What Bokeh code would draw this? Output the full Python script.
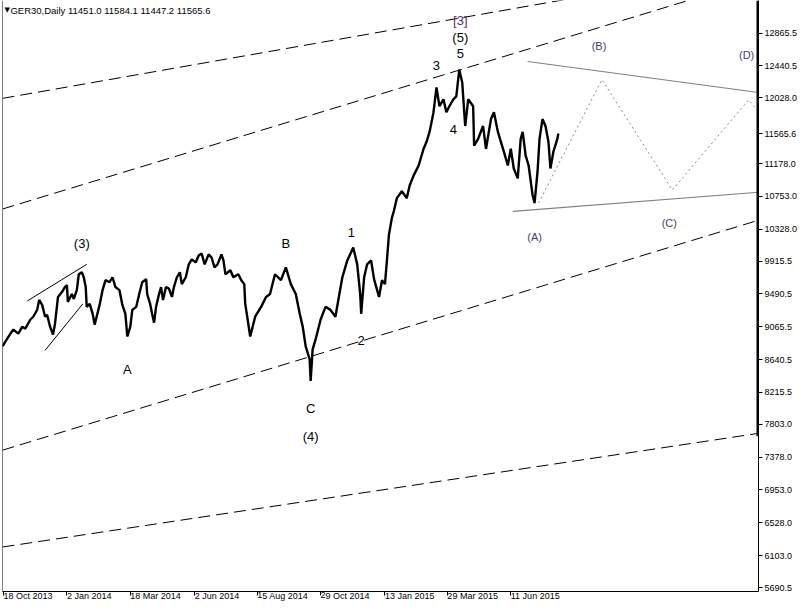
from bokeh.plotting import figure
from bokeh.models import Range1d, FixedTicker, NumeralTickFormatter, Label, Span
from bokeh.core.properties import value
from bokeh.embed import file_html
from bokeh.resources import INLINE

FONT = "Liberation Sans"

# ---- price path (bar index, close) ----
daily_points = [
    (0, 8811), (3, 8875), (8, 8977), (11, 9029), (16, 8977), (20, 9067), (23, 9041), (28, 9156),
    (31, 9195), (35, 9284), (37, 9412), (40, 9348), (43, 9195), (45, 9220), (48, 9067), (51, 8965),
    (53, 9105), (56, 9451), (60, 9515), (63, 9579), (65, 9604), (66, 9387), (70, 9489), (72, 9425),
    (75, 9540), (77, 9745), (80, 9770), (82, 9706), (84, 9579), (85, 9323), (88, 9361), (91, 9233),
    (93, 9093), (95, 9195), (98, 9348), (101, 9540), (104, 9668), (108, 9642), (111, 9706),
    (114, 9579), (118, 9540), (121, 9348), (124, 9233), (126, 8939), (129, 9067), (131, 9284),
    (135, 9323), (138, 9489), (141, 9642), (145, 9681), (146, 9489), (149, 9361), (151, 9233),
    (153, 9118), (155, 9323), (158, 9489), (160, 9579), (162, 9412), (165, 9579), (168, 9560),
    (171, 9451), (173, 9579), (176, 9706), (179, 9770), (181, 9617), (185, 9706), (188, 9873),
    (191, 9937), (195, 9898), (198, 9988), (201, 10013), (204, 9873), (208, 10001), (211, 9962),
    (214, 9834), (217, 9873), (221, 10001), (223, 9924), (225, 9745), (230, 9796), (233, 9706),
    (238, 9745), (241, 9668), (244, 9617), (245, 9361), (247, 9195), (250, 8939), (255, 9195),
    (261, 9323), (266, 9451), (270, 9489), (275, 9745), (281, 9668), (286, 9834), (291, 9617),
    (296, 9489), (300, 9233), (303, 9067), (306, 8811), (310, 8645), (311, 8363), (313, 8773),
    (316, 8901), (321, 9156), (326, 9323), (331, 9284), (336, 9195), (340, 9489), (343, 9706),
    (348, 9924), (354, 10090), (358, 9873), (361, 9489), (362, 9233), (365, 9706), (368, 9873),
    (372, 9924), (375, 9681), (380, 9451), (383, 9668), (386, 9617), (388, 9924), (390, 10256),
    (393, 10474), (395, 10563), (398, 10730), (403, 10819), (408, 10730), (411, 10896),
    (415, 11024), (420, 11152), (425, 11369), (428, 11459), (431, 11587), (435, 11842),
    (438, 12162), (441, 11919), (445, 12009), (448, 11842), (451, 11919), (455, 12009),
    (458, 12047), (461, 12392), (464, 12226), (466, 11842), (467, 11663), (470, 12009),
    (475, 11919), (476, 11408), (480, 11497), (485, 11663), (488, 11369), (493, 11753),
    (496, 11842), (500, 11587), (503, 11459), (506, 11331), (510, 11152), (513, 11369),
    (516, 11113), (520, 10985), (523, 11497), (525, 11587), (528, 11280), (531, 11152),
    (535, 10768), (537, 10666), (540, 11075), (542, 11497), (545, 11753), (548, 11663),
    (551, 11459), (553, 11113), (556, 11331), (560, 11497), (561, 11565.6),
]
bar_index = [b for b, _ in daily_points]
close_price = [c for _, c in daily_points]

# ---- axes ----
date_bars = [1, 65, 129, 194, 257, 321, 386, 449, 513]
date_labels = ["18 Oct 2013", "2 Jan 2014", "18 Mar 2014", "2 Jun 2014", "15 Aug 2014",
               "29 Oct 2014", "13 Jan 2015", "29 Mar 2015", "11 Jun 2015"]
last_price = 11565.6
price_ticks = [12865.5, 12440.5, 12028.0, last_price, 11178.0, 10753.0, 10328.0, 9915.5, 9490.5,
               9065.5, 8640.5, 8215.5, 7803.0, 7378.0, 6953.0, 6528.0, 6103.0, 5690.5]
title_text = "GER30,Daily  11451.0 11584.1 11447.2 11565.6"

# ---- channel lines (dashed): [x0, x1], [y0, y1] ----
channel_x = [[0, 763], [0, 763], [0, 763], [0, 763]]
channel_y = [[12021, 13739], [10589, 13565], [7468, 10444], [6215, 7686]]

# ---- small wedge lines near (3) ----
wedge_x = [[25, 85], [43, 81]]
wedge_y = [[9399, 9873], [8760, 9361]]

# ---- triangle boundary lines (grey) ----
tri_x = [[530, 763], [515, 763]]
tri_y = [[12498, 12097], [10559, 10806]]

# ---- projected zigzag (dotted) ----
zig_x = [541, 605, 676, 753, 761]
zig_y = [10666, 12264, 10836, 12000, 11881]

# ---- wave labels ----
wave_text = ["(3)", "A", "B", "C", "(4)", "1", "2", "3", "4", "5", "(5)"]
wave_x = [80, 126, 286, 311, 311, 352, 362, 438, 455, 462, 462]
wave_y = [10141, 8517, 10141, 8005, 7647, 10282, 8888, 12443, 11612, 12597, 12814]

major_text = ["[3]"]
major_x = [462]
major_y = [13032]

minor_text = ["(A)", "(B)", "(C)", "(D)"]
minor_x = [537, 602, 673, 751]
minor_y = [10231, 12699, 10410, 12584]

right_bar_y = [7647, 13287.6]

Y_TOP, Y_BOTTOM = 13287.6, 5639.2
W, H = 800, 608

p = figure(width=W, height=H,
           x_range=Range1d(0, 763), y_range=Range1d(Y_BOTTOM, Y_TOP),
           output_backend="svg", toolbar_location=None, y_axis_location="right",
           min_border_left=2, min_border_top=0, min_border_right=39,
           min_border_bottom=15)
p.background_fill_color = "white"
p.border_fill_color = "white"
p.outline_line_color = None
p.xgrid.visible = False
p.ygrid.visible = False

# right price axis
ya = p.yaxis[0]
ya.ticker = FixedTicker(ticks=price_ticks)
ya.formatter = NumeralTickFormatter(format="0.0")
ya.major_label_text_font = FONT
ya.major_label_text_font_size = "9px"
ya.major_label_text_color = "black"
ya.axis_line_color = "black"
ya.major_tick_line_color = "black"
ya.major_tick_in = 0
ya.major_tick_out = 4
ya.minor_tick_line_color = None
ya.major_label_standoff = 2

# bottom date axis (tiny negative angle -> labels start at their tick)
xa = p.xaxis[0]
xa.ticker = FixedTicker(ticks=date_bars)
xa.major_label_overrides = {b: t for b, t in zip(date_bars, date_labels)}
xa.major_label_orientation = -0.0001
xa.major_label_text_font = FONT
xa.major_label_text_font_size = "9px"
xa.major_label_text_color = "black"
xa.axis_line_color = "black"
xa.major_tick_line_color = "black"
xa.major_tick_in = 0
xa.major_tick_out = 4
xa.minor_tick_line_color = None
xa.major_label_standoff = 0

p.add_layout(Span(location=0, dimension="height", line_color="black", line_width=1))

# dashed channel lines
p.multi_line(channel_x, channel_y, line_color="black", line_width=1, line_dash="12 6")
# wedge
p.multi_line(wedge_x, wedge_y, line_color="black", line_width=1)
# grey triangle
p.multi_line(tri_x, tri_y, line_color="#808080", line_width=1.2)
p.line(zig_x, zig_y, line_color="#8c8c8c", line_width=1, line_dash="2 3")

# thick marker along right axis
p.line([763, 763], right_bar_y, line_color="black", line_width=4)

# price
p.line(bar_index, close_price, line_color="black", line_width=2.4)

p.text(wave_x, wave_y, text=wave_text, text_font=value(FONT), text_font_size="13px",
       text_align="center", text_baseline="middle", text_color="black")
p.text(major_x, major_y, text=major_text, text_font=value(FONT), text_font_size="13px",
       text_align="center", text_baseline="middle", text_color="#5c2d6e")
p.text(minor_x, minor_y, text=minor_text, text_font=value(FONT), text_font_size="11px",
       text_align="center", text_baseline="middle", text_color="#4a3d6e")

# header
p.add_layout(Label(x=2, y=13160, text="\u25BC", text_font="DejaVu Sans", text_font_size="7px",
                   text_align="left", text_baseline="middle", text_color="black"))
p.add_layout(Label(x=8, y=13160, text=title_text, text_font=FONT, text_font_size="9.5px",
                   text_align="left", text_baseline="middle", text_color="black"))

open("out.html", "w").write(file_html(p, INLINE))
